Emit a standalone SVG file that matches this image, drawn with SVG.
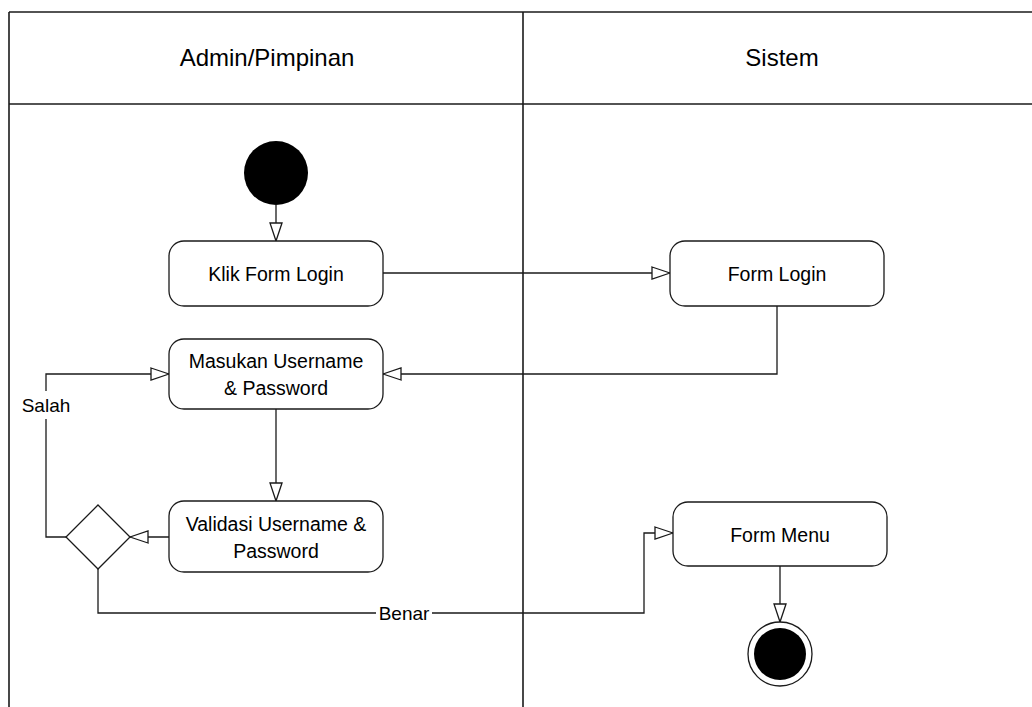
<svg xmlns="http://www.w3.org/2000/svg" width="1032" height="707" viewBox="0 0 1032 707">
  <style>
    .frame { stroke: #1a1a1a; stroke-width: 1.6; fill: none; }
    .node { fill: #ffffff; stroke: #1a1a1a; stroke-width: 1.3; }
    .edge { fill: none; stroke: #1a1a1a; stroke-width: 1.3; }
    .t { font-family: "Liberation Sans", Arial, sans-serif; font-size: 19.5px; fill: #000; text-anchor: middle; }
    .h { font-family: "Liberation Sans", Arial, sans-serif; font-size: 24px; fill: #000; text-anchor: middle; }
    .lbl { font-family: "Liberation Sans", Arial, sans-serif; font-size: 19px; fill: #000; text-anchor: middle; }
  </style>
  <defs>
    <marker id="arr" viewBox="0 0 20 14" refX="19" refY="7" markerWidth="20" markerHeight="14" markerUnits="userSpaceOnUse" orient="auto">
      <path d="M1,1 L19,7 L1,13 Z" fill="#ffffff" stroke="#1a1a1a" stroke-width="1.3"/>
    </marker>
  </defs>
  <rect x="0" y="0" width="1032" height="707" fill="#ffffff"/>

  <g id="swimlanes">
    <line class="frame" x1="9" y1="12" x2="1032" y2="12"/>
    <line class="frame" x1="9" y1="104" x2="1032" y2="104"/>
    <line class="frame" x1="9" y1="12" x2="9" y2="707"/>
    <line class="frame" x1="523" y1="12" x2="523" y2="707"/>
    <text class="h" x="267" y="66">Admin/Pimpinan</text>
    <text class="h" x="782" y="66">Sistem</text>
  </g>

  <g id="connectors">
    <line class="edge" x1="276" y1="205" x2="276" y2="241" marker-end="url(#arr)"/>
    <line class="edge" x1="383" y1="273" x2="670" y2="273" marker-end="url(#arr)"/>
    <polyline class="edge" points="777,306 777,374 383,374" marker-end="url(#arr)"/>
    <line class="edge" x1="276" y1="409" x2="276" y2="501" marker-end="url(#arr)"/>
    <line class="edge" x1="169" y1="537" x2="130" y2="537" marker-end="url(#arr)"/>
    <polyline class="edge" points="66,537 46,537 46,374 169,374" marker-end="url(#arr)"/>
    <polyline class="edge" points="98,568 98,613 644,613 644,533 673,533" marker-end="url(#arr)"/>
    <line class="edge" x1="780" y1="566" x2="780" y2="622" marker-end="url(#arr)"/>
    <rect x="20" y="391" width="52" height="28" fill="#ffffff"/>
    <text class="lbl" x="46" y="412">Salah</text>
    <rect x="376" y="600" width="56" height="26" fill="#ffffff"/>
    <text class="lbl" x="404" y="620">Benar</text>
  </g>

  <g id="start">
    <circle cx="276" cy="173" r="32" fill="#000000"/>
  </g>

  <g id="klik-form-login">
    <rect class="node" x="169" y="241" width="214" height="65" rx="15" ry="15"/>
    <text class="t" x="276" y="281">Klik Form Login</text>
  </g>

  <g id="form-login">
    <rect class="node" x="670" y="241" width="214" height="65" rx="15" ry="15"/>
    <text class="t" x="777" y="281">Form Login</text>
  </g>

  <g id="masukan">
    <rect class="node" x="169" y="339" width="214" height="70" rx="15" ry="15"/>
    <text class="t" x="276" y="368">Masukan Username</text>
    <text class="t" x="276" y="395">&amp; Password</text>
  </g>

  <g id="validasi">
    <rect class="node" x="169" y="501" width="214" height="71" rx="15" ry="15"/>
    <text class="t" x="276" y="531">Validasi Username &amp;</text>
    <text class="t" x="276" y="558">Password</text>
  </g>

  <g id="decision">
    <polygon class="node" points="98,505 130,537 98,569 66,537"/>
  </g>

  <g id="form-menu">
    <rect class="node" x="673" y="502" width="214" height="64" rx="15" ry="15"/>
    <text class="t" x="780" y="542">Form Menu</text>
  </g>

  <g id="end">
    <circle cx="780" cy="654" r="32" fill="#ffffff" stroke="#1a1a1a" stroke-width="1.3"/>
    <circle cx="780" cy="654" r="26" fill="#000000"/>
  </g>
</svg>
